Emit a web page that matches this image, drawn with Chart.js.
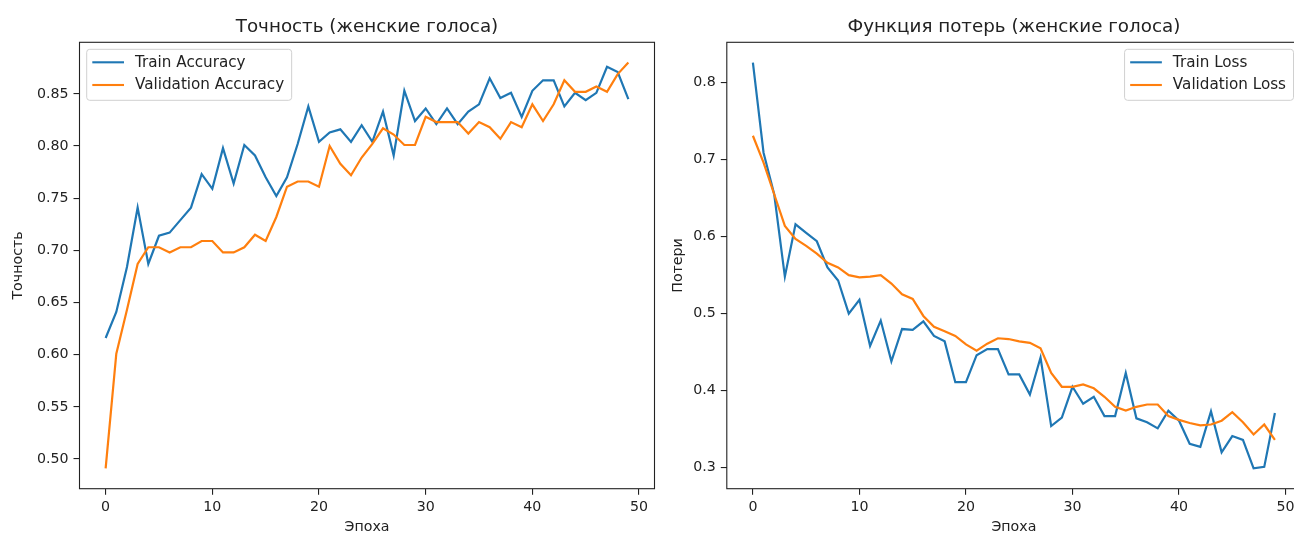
<!DOCTYPE html>
<html>
<head>
<meta charset="utf-8">
<script src="https://cdn.jsdelivr.net/npm/chart.js@4.4.0/dist/chart.umd.min.js"></script>
<style>
  html, body { margin: 0; padding: 0; background: #fff; overflow: hidden; width: 1294px; height: 533px; }
  .panel { position: absolute; top: 0; width: 660px; height: 545px; }
  #accPanel { left: 0; }
  #lossPanel { left: 660px; }
</style>
</head>
<body>
<div class="panel" id="accPanel"><canvas id="accChart" width="660" height="545"></canvas></div>
<div class="panel" id="lossPanel"><canvas id="lossChart" width="660" height="545"></canvas></div>
<script>
// Epoch numbers (x values)
const epochs = [0,1,2,3,4,5,6,7,8,9,10,11,12,13,14,15,16,17,18,19,20,21,22,23,24,
                25,26,27,28,29,30,31,32,33,34,35,36,37,38,39,40,41,42,43,44,45,46,47,48,49];

// Accuracy per epoch
const trainAccuracy = [0.616,0.641,0.684,0.741,0.687,0.714,0.717,0.729,0.741,0.773,
                       0.759,0.798,0.764,0.801,0.791,0.770,0.752,0.770,0.802,0.838,
                       0.804,0.813,0.816,0.804,0.820,0.804,0.833,0.791,0.853,0.824,
                       0.836,0.821,0.836,0.821,0.833,0.840,0.865,0.846,0.851,0.828,
                       0.853,0.863,0.863,0.838,0.851,0.844,0.851,0.876,0.871,0.845];
const valAccuracy   = [0.491,0.601,0.643,0.687,0.703,0.703,0.698,0.703,0.703,0.709,
                       0.709,0.698,0.698,0.703,0.715,0.709,0.732,0.761,0.766,0.766,
                       0.761,0.800,0.783,0.772,0.789,0.802,0.817,0.811,0.801,0.801,
                       0.828,0.823,0.823,0.823,0.812,0.823,0.818,0.807,0.823,0.818,
                       0.840,0.824,0.840,0.863,0.852,0.852,0.857,0.852,0.869,0.880];

// Loss per epoch
const trainLoss = [0.826,0.709,0.655,0.548,0.616,0.605,0.594,0.560,0.543,0.500,
                   0.518,0.458,0.491,0.438,0.480,0.479,0.490,0.471,0.464,0.411,
                   0.411,0.446,0.454,0.454,0.421,0.421,0.395,0.443,0.354,0.365,
                   0.405,0.383,0.392,0.367,0.367,0.423,0.364,0.359,0.351,0.374,
                   0.361,0.331,0.327,0.373,0.320,0.341,0.336,0.299,0.301,0.371];
const valLoss   = [0.731,0.696,0.655,0.614,0.597,0.588,0.578,0.566,0.560,0.550,
                   0.547,0.548,0.550,0.539,0.525,0.519,0.497,0.483,0.477,0.471,
                   0.460,0.452,0.461,0.468,0.467,0.464,0.462,0.455,0.423,0.405,
                   0.405,0.408,0.403,0.392,0.379,0.374,0.379,0.382,0.382,0.367,
                   0.362,0.358,0.355,0.356,0.361,0.372,0.359,0.343,0.356,0.336];

// Tick labels
const epochTicks    = [0, 10, 20, 30, 40, 50];
const accuracyTicks = [0.50, 0.55, 0.60, 0.65, 0.70, 0.75, 0.80, 0.85];
const lossTicks     = [0.3, 0.4, 0.5, 0.6, 0.7, 0.8];

const FONT = '"DejaVu Sans", "Liberation Sans", sans-serif';
const INK = '#222222';
const BLUE = '#1f77b4';
const ORANGE = '#ff7f0e';

// Axis limits padded by 5% of the data span on each side
function paddedRange(values) {
  const lo = Math.min(...values), hi = Math.max(...values);
  const m = (hi - lo) * 0.05;
  return [lo - m, hi + m];
}

// Axes frame, in-axes legend and centred title
const axesDecor = {
  id: 'axesDecor',
  afterDatasetsDraw(chart, args, opts) {
    const { ctx, chartArea: a } = chart;
    ctx.save();

    // frame on all four sides
    ctx.strokeStyle = INK;
    ctx.lineWidth = 1.1;
    ctx.strokeRect(a.left, a.top, a.right - a.left, a.bottom - a.top);

    // title
    ctx.fillStyle = INK;
    ctx.font = '18.3px ' + FONT;
    ctx.textAlign = 'center';
    ctx.textBaseline = 'alphabetic';
    ctx.fillText(opts.title, (a.left + a.right) / 2, 32.3);

    // legend
    ctx.font = '15.2px ' + FONT;
    const sets = chart.data.datasets;
    const textW = Math.max(...sets.map(d => ctx.measureText(d.label).width));
    const w = 48.3 + textW + 7.5;
    const h = 51;
    const x0 = opts.legendSide === 'left' ? a.left + 7.2 : a.right - 7.5 - w;
    const y0 = a.top + 7;
    ctx.beginPath();
    ctx.roundRect(x0, y0, w, h, 3);
    ctx.fillStyle = 'rgba(255,255,255,0.8)';
    ctx.fill();
    ctx.strokeStyle = '#d0d0d0';
    ctx.lineWidth = 1;
    ctx.stroke();
    sets.forEach((d, i) => {
      const y = y0 + 13 + i * 22.7;
      ctx.beginPath();
      ctx.moveTo(x0 + 5.6, y);
      ctx.lineTo(x0 + 37.3, y);
      ctx.strokeStyle = d.borderColor;
      ctx.lineWidth = 2.1;
      ctx.stroke();
      ctx.fillStyle = INK;
      ctx.textAlign = 'left';
      ctx.textBaseline = 'middle';
      ctx.fillText(d.label, x0 + 48.3, y + 0.5);
    });
    ctx.restore();
  }
};

function lineSet(label, values, color, order) {
  return {
    label,
    data: epochs.map((e, i) => ({ x: e, y: values[i] })),
    borderColor: color,
    backgroundColor: color,
    borderWidth: 2.2,
    pointRadius: 0,
    tension: 0,
    fill: false,
    order
  };
}

function makeChart(canvasId, cfg) {
  const [ymin, ymax] = paddedRange(cfg.series.flatMap(s => s.values));
  const [xmin, xmax] = paddedRange(epochs);
  const tickFont = { family: FONT, size: 14.2 };
  return new Chart(document.getElementById(canvasId), {
    type: 'line',
    data: {
      datasets: cfg.series.map((s, i) => lineSet(s.label, s.values, s.color, cfg.series.length - i))
    },
    options: {
      responsive: false,
      devicePixelRatio: 1,
      animation: false,
      layout: { padding: { left: 0, right: cfg.padRight, top: 42.3, bottom: 0 } },
      plugins: {
        legend: { display: false },
        tooltip: { enabled: false },
        axesDecor: { title: cfg.title, legendSide: cfg.legendSide }
      },
      scales: {
        x: {
          type: 'linear',
          min: xmin, max: xmax,
          afterBuildTicks: s => { s.ticks = epochTicks.map(v => ({ value: v })); },
          afterFit: s => { s.height = 56.3; },
          ticks: { font: tickFont, color: INK, padding: 4, autoSkip: false, maxRotation: 0,
                   callback: v => String(v) },
          grid: { display: true, drawOnChartArea: false, drawTicks: true, tickLength: 6, color: INK, lineWidth: 1.1 },
          border: { display: false },
          title: { display: true, text: 'Эпоха', font: { family: FONT, size: 14.2 }, color: INK,
                   padding: { top: 0, bottom: 9.5 } }
        },
        y: {
          type: 'linear',
          min: ymin, max: ymax,
          afterBuildTicks: s => { s.ticks = cfg.ticks.map(v => ({ value: v })); },
          afterFit: s => { s.width = cfg.yWidth; },
          ticks: { font: tickFont, color: INK, padding: 5, autoSkip: false,
                   callback: v => v.toFixed(cfg.decimals) },
          grid: { display: true, drawOnChartArea: false, drawTicks: true, tickLength: 6, color: INK, lineWidth: 1.1 },
          border: { display: false },
          title: { display: true, text: cfg.yTitle, font: { family: FONT, size: 14.2 }, color: INK,
                   padding: { top: 10, bottom: 0 } }
        }
      }
    },
    plugins: [axesDecor]
  });
}

makeChart('accChart', {
  title: 'Точность (женские голоса)',
  yTitle: 'Точность',
  legendSide: 'left',
  ticks: accuracyTicks,
  decimals: 2,
  yWidth: 79.5,
  padRight: 5.5,
  series: [
    { label: 'Train Accuracy', values: trainAccuracy, color: BLUE },
    { label: 'Validation Accuracy', values: valAccuracy, color: ORANGE }
  ]
});

makeChart('lossChart', {
  title: 'Функция потерь (женские голоса)',
  yTitle: 'Потери',
  legendSide: 'right',
  ticks: lossTicks,
  decimals: 1,
  yWidth: 66.8,
  padRight: 19,
  series: [
    { label: 'Train Loss', values: trainLoss, color: BLUE },
    { label: 'Validation Loss', values: valLoss, color: ORANGE }
  ]
});
</script>
</body>
</html>
